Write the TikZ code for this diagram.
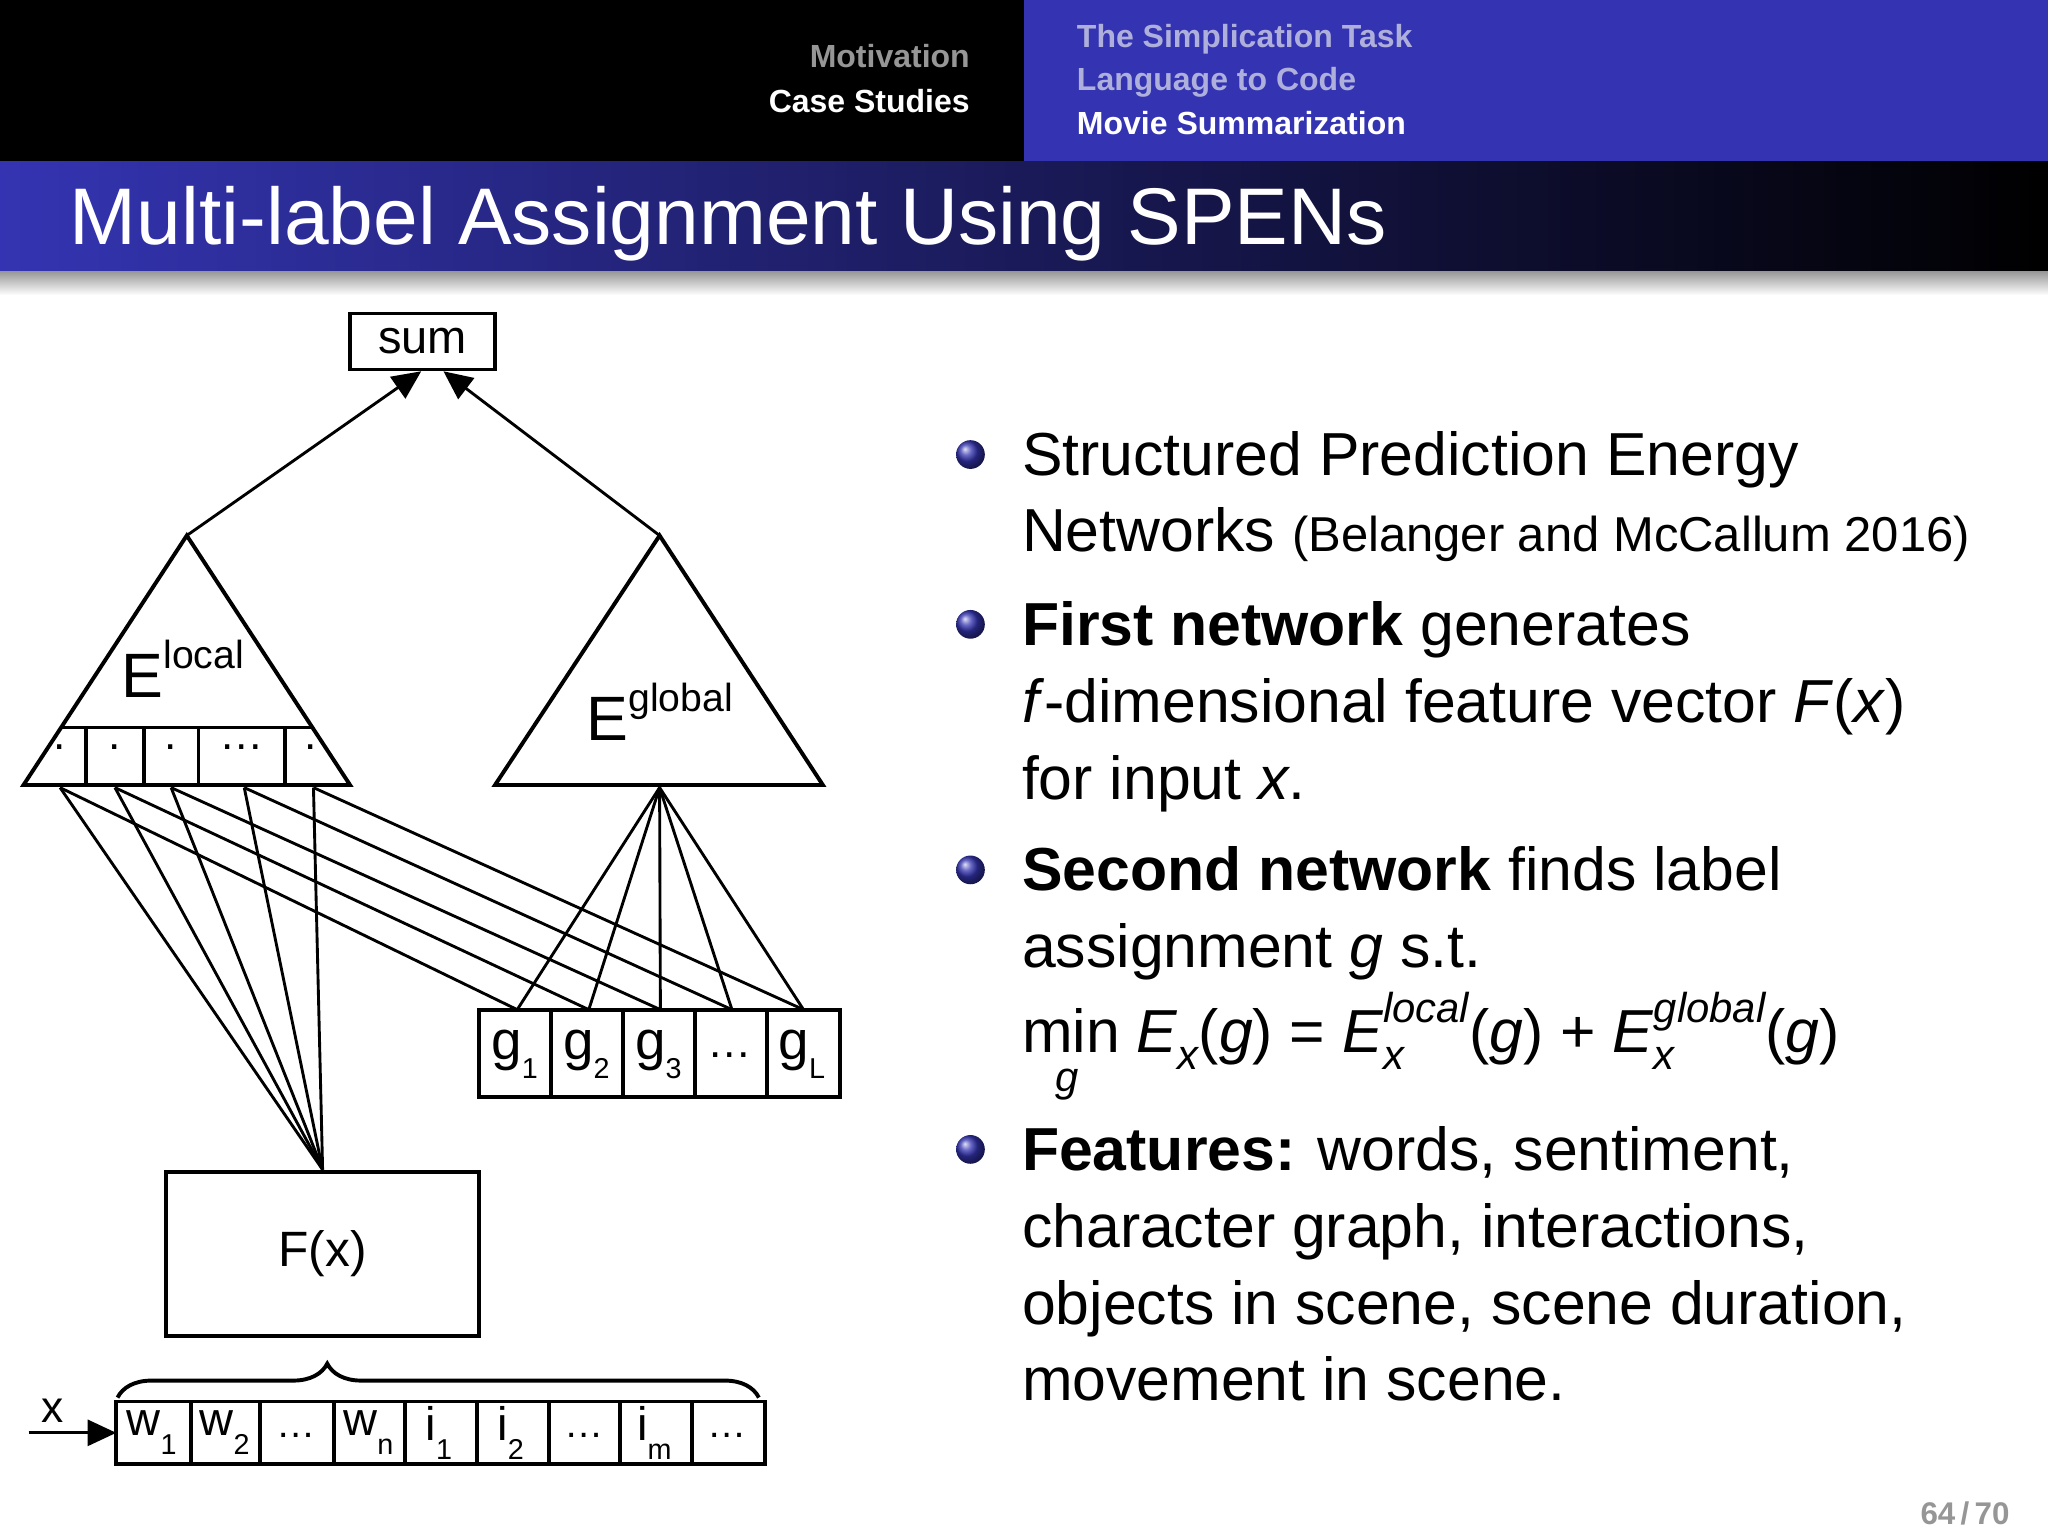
\documentclass[tikz,border=0pt]{standalone}
\usepackage{fontspec}
\setmainfont{Liberation Sans}
\usetikzlibrary{arrows.meta,decorations.pathreplacing,shadings}
\definecolor{bblue}{RGB}{52,52,178}
\definecolor{hgray}{RGB}{150,150,150}
\definecolor{hlight}{RGB}{175,175,220}
\tikzset{
  ln/.style={line width=2.2pt},
  tri/.style={line width=3pt, line join=miter},
  cellbox/.style={draw, line width=3pt},
  arr/.style={ln,-{Triangle[length=22pt,width=20pt]}},
  body/.style={anchor=base west, font=\fontsize{46.5}{50}\selectfont},
}
\newcommand{\bul}[1]{\shade[ball color=bblue] #1 circle (11pt);}
\newcommand{\mysb}[1]{\raisebox{-0.28em}{\fontsize{32}{34}\selectfont\itshape #1}}
\newcommand{\mysbsp}[2]{\rlap{\raisebox{-0.28em}{\fontsize{32}{34}\selectfont\itshape #1}}\raisebox{0.5em}{\fontsize{32}{34}\selectfont\itshape #2}}
\begin{document}
\begin{tikzpicture}[x=1pt,y=-1pt]
\useasboundingbox (0,0) rectangle (1568,1176);
\fill[white] (0,0) rectangle (1568,1176);
% header
\fill[black] (0,0) rectangle (784,124);
\fill[bblue] (784,0) rectangle (1568,124);
\shade[left color=bblue, right color=black] (0,124) rectangle (1568,208);
\shade[top color=black!40, bottom color=white] (0,208) rectangle (1568,226);
\node[anchor=base east, text=hgray, font=\fontsize{24.5}{28}\selectfont\bfseries] (h1) at (746,52) {Motivation};
\node[anchor=base east, text=white, font=\fontsize{24.5}{28}\selectfont\bfseries] (h2) at (746,86) {Case Studies};
\node[anchor=base west, text=hlight, font=\fontsize{24.5}{28}\selectfont\bfseries] (h3) at (821,36) {The Simplication Task};
\node[anchor=base west, text=hlight, font=\fontsize{24.5}{28}\selectfont\bfseries] (h4) at (821,69) {Language to Code};
\node[anchor=base west, text=white, font=\fontsize{24.5}{28}\selectfont\bfseries] (h5) at (821,103) {Movie Summarization};
\node[anchor=base west, text=white, font=\fontsize{61.5}{66}\selectfont] (title) at (50,187) {Multi-label Assignment Using SPENs};
% sum
\node[draw, line width=2.5pt, minimum width=111pt, minimum height=43pt, inner sep=0pt, font=\fontsize{36}{40}\selectfont] (sum) at (323.5,261.5) {sum};
% triangles
\coordinate (la) at (143,410); \coordinate (ra) at (505,410);
\draw[tri] (la) -- (268,601) -- (18,601) -- cycle;
\draw[tri] (ra) -- (630,601) -- (379,601) -- cycle;
\draw[tri] (47,557) -- (240,557);
\foreach \x/\t in {46/.,88/.,131/.,185/\dots,238/.}
  \node[font=\fontsize{34}{36}\selectfont, inner sep=0pt] at (\x,572) {\t};
\foreach \x in {66,110,152,218} \draw[tri] (\x,557) -- (\x,601);
\node[font=\fontsize{48}{50}\selectfont, inner sep=0pt] (el) at (140,512) {E\raisebox{0.45em}{\fontsize{30}{32}\selectfont local}};
\node[font=\fontsize{48}{50}\selectfont, inner sep=0pt] (eg) at (505,545) {E\raisebox{0.45em}{\fontsize{30}{32}\selectfont global}};
\draw[arr] (la) -- ([xshift=-1pt]sum.south);
\draw[arr] (ra) -- ([xshift=16pt]sum.south);
% g boxes
\draw[cellbox] (367,773) rectangle (643,840);
\foreach \x in {422,477,532,587} \draw[cellbox] (\x,773) -- (\x,840);
\foreach \x/\t in {394/1,449/2,504/3,614/L}
  \node[font=\fontsize{42}{44}\selectfont, inner sep=0pt] at (\x,807) {g\raisebox{-0.35em}{\fontsize{22}{24}\selectfont\t}};
\node[font=\fontsize{34}{36}\selectfont, inner sep=0pt] at (559,808) {\dots};
% F(x)
\node[draw, line width=3pt, minimum width=240pt, minimum height=126pt, inner sep=0pt, font=\fontsize{38}{40}\selectfont] (F) at (247,960) {F(x)};
% connections
\coordinate (gb) at (505,603);
\foreach \x [count=\i] in {46,88,131,187,240}{
  \pgfmathsetmacro{\gx}{396+(\i-1)*54.8}
  \draw[ln] (\x,603) -- (\gx,773);
  \draw[ln] (\x,603) -- (F.north);
  \draw[ln] (gb) -- (\gx,773);
}
% input cells
\draw[cellbox] (89,1073) rectangle (586,1121);
\foreach \x in {146,199,256,310,365,420,475,530} \draw[cellbox] (\x,1073) -- (\x,1121);
\foreach \x/\t/\s in {116/w/1,172/w/2,282/w/n,336/i/1,391/i/2,501/i/m}
  \node[font=\fontsize{36}{38}\selectfont, inner sep=0pt] at (\x,1097) {\t\raisebox{-0.4em}{\fontsize{22}{24}\selectfont\s}};
\foreach \x in {227,447,557}
  \node[font=\fontsize{30}{32}\selectfont, inner sep=0pt] at (\x,1099) {\dots};
\draw[decorate, decoration={brace, amplitude=26pt, aspect=0.327}, line width=3pt] (90,1070) -- (581,1070);
\coordinate (xin) at (22,1097);
\draw[arr] (xin) -- (89,1097);
\node[font=\fontsize{34}{36}\selectfont, inner sep=0pt] (xl) at (40,1080) {x};
% bullets
\bul{(743,348)} \bul{(743,478)} \bul{(743,666)} \bul{(743,880)}
\node[body] at (779,364) {Structured Prediction Energy};
\node[body] at (779,422) {Networks {\fontsize{37.5}{40}\selectfont(Belanger and McCallum 2016)}};
\node[body] at (779,494) {\textbf{First network} generates};
\node[body] at (779,553) {\textit{f}-dimensional feature vector \textit{F}(\textit{x})};
\node[body] at (779,612) {for input \textit{x}.};
\node[body] at (779,682) {\textbf{Second network} finds label};
\node[body] at (779,741) {assignment \textit{g} s.t.};
\node[body] (mth) at (779,806) {min \textit{E}\mysb{x}(\textit{g}) = \textit{E}\mysbsp{x}{local}(\textit{g}) + \textit{E}\mysbsp{x}{global}(\textit{g})};
\node[anchor=base, font=\fontsize{32}{34}\selectfont\itshape, inner sep=0pt] (mg) at (817,836) {g};
\node[body] at (779,896) {\textbf{Features:} words, sentiment,};
\node[body] at (779,955) {character graph, interactions,};
\node[body] at (779,1014) {objects in scene, scene duration,};
\node[body] at (779,1072) {movement in scene.};
\node[anchor=base east, text=hgray, font=\fontsize{24}{28}\selectfont\bfseries] (pg) at (1542,1167) {64\,/\,70};
\end{tikzpicture}
\end{document}
